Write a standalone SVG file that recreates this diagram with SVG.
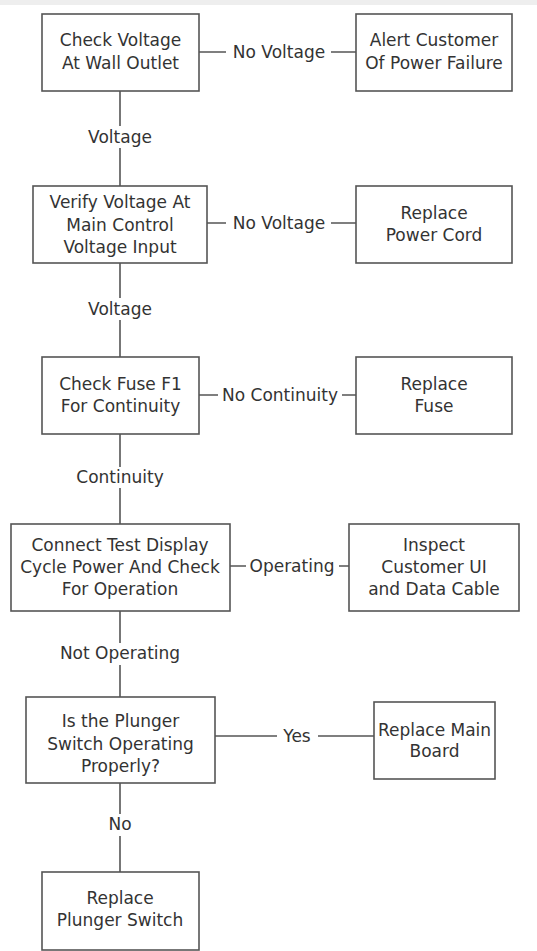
<svg xmlns="http://www.w3.org/2000/svg" width="537" height="951" viewBox="0 0 537 951">
<style>
.box{fill:#fff;stroke:#555;stroke-width:1.6}
.ln{stroke:#555;stroke-width:1.6;fill:none}
text{font-family:"DejaVu Sans",Verdana,sans-serif;font-size:17px;fill:#333;text-anchor:middle}
</style>
<rect x="0" y="0" width="537" height="951" fill="#fff"/>
<rect x="0" y="0" width="537" height="5" fill="#eeeeee"/>
<g id="connectors">
<path class="ln" d="M199 52H226M331 52H356"/>
<path class="ln" d="M120 91V126M120 148V186"/>
<path class="ln" d="M207 223H226M331 223H356"/>
<path class="ln" d="M120 263V298M120 320V357"/>
<path class="ln" d="M199 395H218M342 395H356"/>
<path class="ln" d="M120 434V467M120 488V524"/>
<path class="ln" d="M230 566H246M339 566H349"/>
<path class="ln" d="M120 611V643M120 665V697"/>
<path class="ln" d="M215 736H277M318 736H374"/>
<path class="ln" d="M120 783V814M120 836V872"/>
<text x="279" y="58">No Voltage</text>
<text x="120" y="143">Voltage</text>
<text x="279" y="229">No Voltage</text>
<text x="120" y="315">Voltage</text>
<text x="280" y="401">No Continuity</text>
<text x="292" y="572">Operating</text>
<text x="120" y="483">Continuity</text>
<text x="120" y="659">Not Operating</text>
<text x="297" y="742">Yes</text>
<text x="120" y="830">No</text>
</g>
<g id="n1"><rect class="box" x="42" y="14" width="157" height="77"/><text x="120.5" y="46">Check Voltage</text><text x="120.5" y="69">At Wall Outlet</text></g>
<g id="n2"><rect class="box" x="356" y="14" width="156" height="77"/><text x="434" y="46">Alert Customer</text><text x="434" y="69">Of Power Failure</text></g>
<g id="n3"><rect class="box" x="33" y="186" width="174" height="77"/><text x="120" y="208">Verify Voltage At</text><text x="120" y="230.5">Main Control</text><text x="120" y="253">Voltage Input</text></g>
<g id="n4"><rect class="box" x="356" y="186" width="156" height="77"/><text x="434" y="219">Replace</text><text x="434" y="241">Power Cord</text></g>
<g id="n5"><rect class="box" x="42" y="357" width="157" height="77"/><text x="120.5" y="390">Check Fuse F1</text><text x="120.5" y="412">For Continuity</text></g>
<g id="n6"><rect class="box" x="356" y="357" width="156" height="77"/><text x="434" y="390">Replace</text><text x="434" y="412">Fuse</text></g>
<g id="n7"><rect class="box" x="11" y="524" width="219" height="87"/><text x="120" y="551">Connect Test Display</text><text x="120" y="573">Cycle Power And Check</text><text x="120" y="595">For Operation</text></g>
<g id="n8"><rect class="box" x="349" y="524" width="170" height="87"/><text x="434" y="551">Inspect</text><text x="434" y="573">Customer UI</text><text x="434" y="595">and Data Cable</text></g>
<g id="n9"><rect class="box" x="26" y="697" width="189" height="86"/><text x="120.5" y="727">Is the Plunger</text><text x="120.5" y="750">Switch Operating</text><text x="120.5" y="772">Properly?</text></g>
<g id="n10"><rect class="box" x="374" y="702" width="121" height="77"/><text x="434.5" y="736">Replace Main</text><text x="434.5" y="757">Board</text></g>
<g id="n11"><rect class="box" x="42" y="872" width="157" height="78"/><text x="120" y="904">Replace</text><text x="120" y="926">Plunger Switch</text></g>
</svg>
